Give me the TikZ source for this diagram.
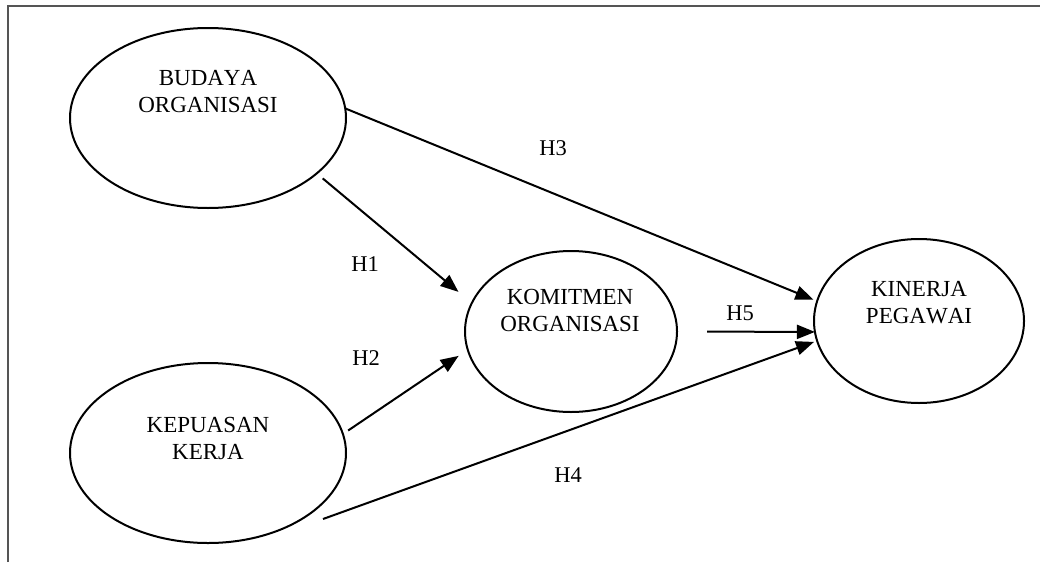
\documentclass[tikz,border=0pt]{standalone}
\usepackage{fontspec}
\setmainfont{Liberation Serif}[Kerning=Off]
\usetikzlibrary{arrows.meta,shapes.geometric}
\definecolor{framegray}{RGB}{85,85,85}
\begin{document}
\begin{tikzpicture}[x=1pt,y=-1pt,
  ell/.style={draw, ellipse, line width=2pt, inner sep=0pt, outer sep=0pt},
  lbl/.style={font=\fontsize{23}{27}\selectfont, align=center, inner sep=0pt},
  hyp/.style={font=\fontsize{22.5}{26}\selectfont, inner sep=0pt},
  arr/.style={line width=2pt, -{Triangle[length=18pt,width=14pt]}},
]
\useasboundingbox (0,0) rectangle (1040,562);
\draw[line width=2pt, color=framegray] (8,562) -- (8,6) -- (1040,6);

% ellipses
\node[ell, minimum width=276pt, minimum height=180pt] (bo) at (208,118) {};
\node[ell, minimum width=276pt, minimum height=180pt] (ke) at (208,453) {};
\node[ell, minimum width=212pt, minimum height=161pt] (ko) at (571,331.5) {};
\node[ell, minimum width=210pt, minimum height=164pt] (ki) at (919,321) {};

% texts
\node[lbl] (bot) at (208,91.5) {BUDAYA\\ORGANISASI};
\node[lbl] (ket) at (208,438) {KEPUASAN\\KERJA};
\node[lbl] (kot) at (570,310) {KOMITMEN\\ORGANISASI};
\node[lbl] (kit) at (919,303) {KINERJA\\PEGAWAI};

% connectors
\coordinate (h4s) at (323,519);
\draw[arr, shorten >=4pt] (bo.4.59) -- (ki.169.25);
\draw[arr, shorten <=7.8pt, shorten >=17.4pt] (bo.-27.43) -- (ko.164.7);
\draw[arr, shorten <=6.3pt, shorten >=11pt] (ke.8.24) -- (ko.190.7);
\draw[arr, shorten <=30pt] (ko.-0.8) -- (ki.186.6);
\draw[arr, shorten >=3.3pt] (h4s) -- (ki.191.05);

% labels
\node[hyp] (h1) at (365,264.5) {H1};
\node[hyp] (h2) at (366,358.5) {H2};
\node[hyp] (h3) at (553,148) {H3};
\node[hyp] (h4) at (568,475) {H4};
\node[hyp] (h5) at (740,313) {H5};
\end{tikzpicture}
\end{document}
